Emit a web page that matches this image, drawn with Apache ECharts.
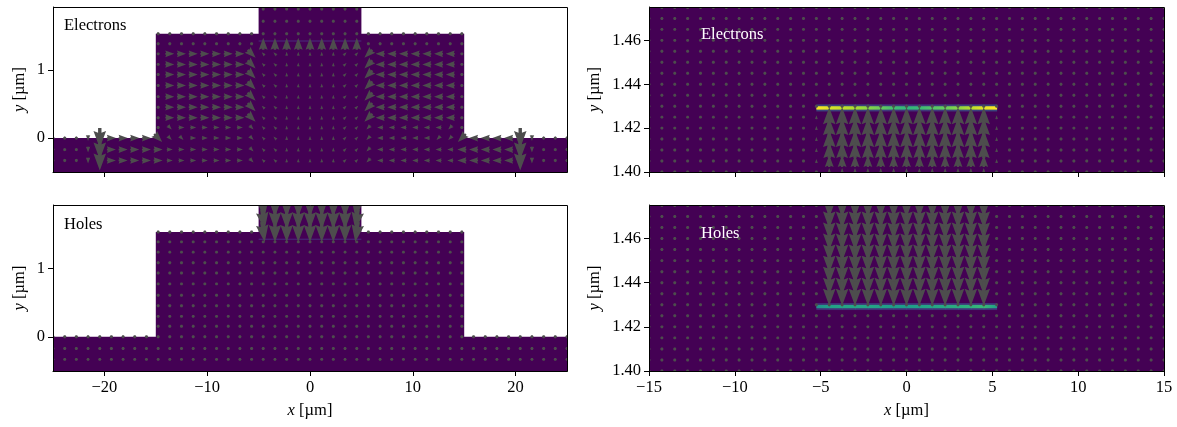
<!DOCTYPE html>
<html><head><meta charset="utf-8">
<script src="https://cdn.jsdelivr.net/npm/echarts@6/dist/echarts.min.js"></script>
<style>html,body{margin:0;padding:0;background:#fff}#c{width:1177px;height:427px}</style>
</head><body><div id="c"></div>
<script>
// ================= DATA =================
const leftXTicks = [-20, -10, 0, 10, 20];
const leftYTicks = [0, 1];
const rightXTicks = [-15, -10, -5, 0, 5, 10, 15];
const rightYTicks = [1.40, 1.42, 1.44, 1.46];

// device outline (µm)
const domainX = [-25, -15, -15, -5, -5, 5, 5, 15, 15, 25, 25, -25];
const domainY = [0, 0, 1.535, 1.535, 2.0, 2.0, 1.535, 1.535, 0, 0, -0.5, -0.5];
const qwY = 1.4292;          // quantum-well layer position
const qwX = [-5, 5];

// quiver grid, left panels
const leftX = [-25,-23.86,-22.73,-21.59,-20.45,-19.32,-18.18,-17.05,-15.91,-14.77,-13.64,-12.5,-11.36,-10.23,-9.09,-7.95,-6.82,-5.68,-4.55,-3.41,-2.27,-1.14,0,1.14,2.27,3.41,4.55,5.68,6.82,7.95,9.09,10.23,11.36,12.5,13.64,14.77,15.91,17.05,18.18,19.32,20.45,21.59,22.73,23.86,25];
const leftY = [1.90, 1.72, 1.535, 1.39, 1.24, 1.085, 0.935, 0.775, 0.61, 0.455, 0.30, 0.155, 0, -0.17, -0.33];
// quiver grid, right panels
const rightX = [-15,-14.25,-13.5,-12.75,-12,-11.25,-10.5,-9.75,-9,-8.25,-7.5,-6.75,-6,-5.25,-4.5,-3.75,-3,-2.25,-1.5,-0.75,0,0.75,1.5,2.25,3,3.75,4.5,5.25,6,6.75,7.5,8.25,9,9.75,10.5,11.25,12,12.75,13.5,14.25,15];
const rightY = [1.475, 1.47, 1.465, 1.46, 1.455, 1.45, 1.445, 1.44, 1.435, 1.43, 1.425, 1.42, 1.415, 1.41, 1.405, 1.40];

// arrow codes -> (u, v) current vector, arbitrary units (right / up positive)
const arrowCodes = {
  '.': [0, 0], ',': [3, 0], '`': [-3, 0], 'r': [6, 0], 'R': [9, 0], 'l': [-6, 0], 'L': [-9, 0],
  'u': [0, 4], 'U': [0, 12], 'y': [0, -3], 'd': [0, -6], 'D': [0, -20],
  'e': [4, -4], 'E': [8, -8], 'w': [-4, -4], 'W': [-8, -8], 'q': [-3, 3], 'p': [3, 3],
  'X': [3, -20], 'Z': [-3, -20], 'H': [0, -24],
  'A': [0, 20], 'B': [0, 18], 'C': [0, 16], 'F': [0, 12], 'G': [0, 8]
};

// Electrons, left panel (rows top -> bottom, one char per column of leftX; blank = outside device)
const elecLeftRows = [
  '                  .........                  ',
  '                  .........                  ',
  '         ...........................         ',
  '         .,,,,,,,,UUUUUUUUU````````.         ',
  '         .RRRRRRREqquuuuuppWLLLLLLL.         ',
  '         .RRRRRRREqquuuuuppWLLLLLLL.         ',
  '         .RRRRRRREqquuuuuppWLLLLLLL.         ',
  '         .RRRRRRREqquuuuuppWLLLLLLL.         ',
  '         .RRRRRRREqquuuuuppWLLLLLLL.         ',
  '         .RRRRRRREqquuuuuppWLLLLLLL.         ',
  '         .RRRRRRREqquuuuuppWLLLLLLL.         ',
  '         .errrrrreqquuuuuppwllllllw.         ',
  '.yydDRRRREeerrrrreqquuuuuppwlllllwwWLLLLDdyy.',
  '.yydDRRRRRrrrrrrreqquuuuuppwlllllllLLLLLDdyy.',
  '.yydDRRRRRrrrrrrreqquuuuuppwlllllllLLLLLDdyy.'
];
// Holes, left panel
const holeLeftRows = [
  '                  XDDDDDDDZ                  ',
  '                  XDDDDDDDZ                  ',
  '         .........XDDDDDDDZ.........         ',
  '         ...........................         ',
  '         ...........................         ',
  '         ...........................         ',
  '         ...........................         ',
  '         ...........................         ',
  '         ...........................         ',
  '         ...........................         ',
  '         ...........................         ',
  '         ...........................         ',
  '.............................................',
  '.............................................',
  '.............................................'
];
// Electrons, right panel (rows 1.475 -> 1.40)
const elecRightRows = [
  '.........................................',
  '.........................................',
  '.........................................',
  '.........................................',
  '.........................................',
  '.........................................',
  '.........................................',
  '.........................................',
  '.........................................',
  '.........................................',
  '.............uAAAAAAAAAAAAAu.............',
  '.............uAAAAAAAAAAAAAu.............',
  '.............uBBBBBBBBBBBBBu.............',
  '.............uCCCCCCCCCCCCCu.............',
  '.............uFFFFFFFFFFFFFu.............',
  '..............GGGGGGGGGGGGG..............'
];
// Holes, right panel
const holeRightRows = [
  '..............HHHHHHHHHHHHH..............',
  '..............HHHHHHHHHHHHH..............',
  '..............HHHHHHHHHHHHH..............',
  '..............HHHHHHHHHHHHH..............',
  '..............HHHHHHHHHHHHH..............',
  '..............HHHHHHHHHHHHH..............',
  '..............HHHHHHHHHHHHH..............',
  '..............HHHHHHHHHHHHH..............',
  '..............HHHHHHHHHHHHH..............',
  '.........................................',
  '.........................................',
  '.........................................',
  '.........................................',
  '.........................................',
  '.........................................',
  '.........................................'
];

// carrier density along the quantum well (normalised 0..1)
const lineX = [-5.25, -4.5, -3.75, -3, -2.25, -1.5, -0.75, 0, 0.75, 1.5, 2.25, 3, 3.75, 4.5, 5.25];
const elecDensity = [1.0, 0.97, 0.95, 0.93, 0.90, 0.86, 0.78, 0.74, 0.76, 0.82, 0.86, 0.90, 0.94, 0.98, 1.0];
const holeDensity = [0.56, 0.64, 0.66, 0.66, 0.66, 0.64, 0.62, 0.62, 0.64, 0.66, 0.68, 0.70, 0.72, 0.76, 0.62];

// ================= RENDERING =================
const FONT = 'Liberation Serif';
const FS = 16.5;
const ARROW_COLOR = '#4d4d4d';
const DOMAIN_COLOR = '#440154';
const W = 3.4;          // quiver shaft width in px
const HEAD_W = 3.7;     // head width (in shaft widths)
const HEAD_L = 5;       // head length
const HEAD_AX = 4.5;    // head axis length

const VIR = [[0,'#440154'],[0.125,'#482878'],[0.25,'#3e4989'],[0.375,'#31688e'],[0.5,'#26828e'],[0.625,'#1f9e89'],[0.75,'#35b779'],[0.875,'#6ece58'],[0.9375,'#b5de2b'],[1,'#fde725']];
function hex2rgb(h){return [parseInt(h.slice(1,3),16),parseInt(h.slice(3,5),16),parseInt(h.slice(5,7),16)];}
function viridis(t){
  t = Math.max(0, Math.min(1, t));
  for (let i = 1; i < VIR.length; i++) {
    if (t <= VIR[i][0]) {
      const a = VIR[i-1], b = VIR[i], f = (t - a[0]) / (b[0] - a[0]);
      const ca = hex2rgb(a[1]), cb = hex2rgb(b[1]);
      return 'rgb(' + ca.map((v, k) => Math.round(v + (cb[k] - v) * f)).join(',') + ')';
    }
  }
  return VIR[VIR.length-1][1];
}

function quiverData(xs, ys, rows) {
  const out = [];
  rows.forEach((row, j) => {
    for (let i = 0; i < row.length; i++) {
      const ch = row[i];
      if (ch === ' ') continue;
      const uv = arrowCodes[ch];
      out.push([xs[i], ys[j], uv[0], uv[1]]);
    }
  });
  return out;
}

// matplotlib-style quiver arrow (pivot = middle)
function arrowPolygon(cx, cy, u, v) {
  const L = Math.hypot(u, v) / W;
  let X, Y;
  const hw = HEAD_W / 2;
  if (L < 1) {
    X = []; Y = [];
    for (let i = 0; i < 8; i++) { const th = i * Math.PI / 3; X.push(Math.cos(th) * 0.5); Y.push(Math.sin(th) * 0.5); }
  } else {
    if (L < HEAD_L) {
      const s = L / HEAD_L;
      X = [0, HEAD_L - HEAD_AX, 0, HEAD_L, 0, HEAD_L - HEAD_AX, 0, 0].map(a => a * s);
      Y = [0.5, 0.5, hw, 0, -hw, -0.5, -0.5, 0.5].map(a => a * s);
    } else {
      X = [0, L - HEAD_AX, L - HEAD_L, L, L - HEAD_L, L - HEAD_AX, 0, 0];
      Y = [0.5, 0.5, hw, 0, -hw, -0.5, -0.5, 0.5];
    }
    const tip = X[3];
    X = X.map(a => a - tip / 2);
  }
  const th = Math.atan2(v, u), c = Math.cos(th), s = Math.sin(th);
  return X.map((x, i) => [cx + (x * c - Y[i] * s) * W, cy - (x * s + Y[i] * c) * W]);
}

function quiverSeries(gi, data) {
  return {
    type: 'custom', xAxisIndex: gi, yAxisIndex: gi, clip: true, silent: true, z: 5,
    progressive: 0, animation: false,
    data: data,
    renderItem: function (params, api) {
      const c = api.coord([api.value(0), api.value(1)]);
      return { type: 'polygon', shape: { points: arrowPolygon(c[0], c[1], api.value(2), api.value(3)) }, style: { fill: ARROW_COLOR } };
    }
  };
}

function domainSeries(gi, midY) {
  return {
    type: 'custom', xAxisIndex: gi, yAxisIndex: gi, clip: true, silent: true, z: 1,
    data: [[0, midY]],
    renderItem: function (params, api) {
      const pts = domainX.map((x, i) => api.coord([x, domainY[i]]));
      return { type: 'polygon', shape: { points: pts }, style: { fill: DOMAIN_COLOR } };
    }
  };
}

function densitySeries(gi, dens) {
  const data = [];
  for (let i = 0; i < lineX.length - 1; i++) data.push([lineX[i], lineX[i+1], dens[i], dens[i+1]]);
  return {
    type: 'custom', xAxisIndex: gi, yAxisIndex: gi, clip: true, silent: true, z: 3,
    data: data,
    encode: { x: [0, 1] },
    renderItem: function (params, api) {
      const a = api.coord([api.value(0), qwY]), b = api.coord([api.value(1), qwY]);
      const c0 = viridis(api.value(2)), c1 = viridis(api.value(3));
      const h0 = viridis(api.value(2) * 0.35), h1 = viridis(api.value(3) * 0.35);
      const grad = (p, q) => new echarts.graphic.LinearGradient(0, 0, 1, 0, [{ offset: 0, color: p }, { offset: 1, color: q }]);
      return {
        type: 'group', children: [
          { type: 'rect', shape: { x: a[0], y: a[1] - 3.5, width: b[0] - a[0] + 0.5, height: 7 }, style: { fill: grad(h0, h1), opacity: 0.7 } },
          { type: 'rect', shape: { x: a[0], y: a[1] - 1.7, width: b[0] - a[0] + 0.5, height: 3.4 }, style: { fill: grad(c0, c1) } }
        ]
      };
    }
  };
}

function qwLineSeries(gi) {
  return {
    type: 'line', xAxisIndex: gi, yAxisIndex: gi, silent: true, z: 3, symbol: 'none',
    data: [[qwX[0], qwY], [qwX[1], qwY]],
    lineStyle: { color: '#4b3a86', width: 1, opacity: 0.8 }
  };
}

const minus = v => (v < 0 ? '\u2212' + Math.abs(v) : String(v));
const txt = { fontFamily: FONT, fontSize: FS, color: '#000' };
const nameStyle = () => ({
  fontFamily: FONT, fontSize: FS, color: '#000',
  rich: { i: { fontFamily: FONT, fontSize: FS, fontStyle: 'italic', color: '#000' } }
});

function xAxisCfg(gi, min, max, ticks, showLabels) {
  return {
    type: 'value', gridIndex: gi, min: min, max: max,
    axisLine: { show: true, onZero: false, lineStyle: { color: '#000', width: 1 } },
    axisTick: { show: true, customValues: ticks, length: 5, lineStyle: { color: '#000', width: 1 } },
    axisLabel: Object.assign({ show: showLabels, customValues: ticks, formatter: minus, margin: 8 }, txt),
    splitLine: { show: false },
    name: showLabels ? '{i|x} [\u00b5m]' : '', nameLocation: 'middle', nameGap: 31,
    nameTextStyle: nameStyle()
  };
}
function yAxisCfg(gi, min, max, ticks, fmt, gap) {
  return {
    type: 'value', gridIndex: gi, min: min, max: max,
    axisLine: { show: true, onZero: false, lineStyle: { color: '#000', width: 1 } },
    axisTick: { show: true, customValues: ticks, length: 5, lineStyle: { color: '#000', width: 1 } },
    axisLabel: Object.assign({ show: true, customValues: ticks, formatter: fmt, margin: 8 }, txt),
    splitLine: { show: false },
    name: '{i|y} [\u00b5m]', nameLocation: 'middle', nameGap: gap, nameRotate: 90,
    nameTextStyle: nameStyle()
  };
}

const grids = [
  { left: 53, top: 7, width: 514, height: 165 },
  { left: 53, top: 205, width: 514, height: 166 },
  { left: 649, top: 7, width: 515, height: 165 },
  { left: 649, top: 205, width: 515, height: 166 }
];

const frames = grids.map(g => ({
  type: 'rect', z: 100, silent: true,
  shape: { x: g.left + 0.5, y: g.top + 0.5, width: g.width, height: g.height },
  style: { fill: 'none', stroke: '#000', lineWidth: 1 }
}));
const labelText = (x, y, text, color) => ({
  type: 'text', z: 110, x: x, y: y, silent: true,
  style: { text: text, fill: color, font: FS + 'px "' + FONT + '"', verticalAlign: 'middle', align: 'left' }
});

const option = {
  animation: false,
  backgroundColor: '#fff',
  grid: grids.map(g => Object.assign({ show: false, containLabel: false }, g)),
  xAxis: [
    xAxisCfg(0, -25, 25, leftXTicks, false),
    xAxisCfg(1, -25, 25, leftXTicks, true),
    xAxisCfg(2, -15, 15, rightXTicks, false),
    xAxisCfg(3, -15, 15, rightXTicks, true)
  ],
  yAxis: [
    yAxisCfg(0, -0.5, 1.93, leftYTicks, minus, 25),
    yAxisCfg(1, -0.5, 1.93, leftYTicks, minus, 25),
    yAxisCfg(2, 1.40, 1.4752, rightYTicks, v => v.toFixed(2), 46),
    yAxisCfg(3, 1.40, 1.4752, rightYTicks, v => v.toFixed(2), 46)
  ],
  series: [
    domainSeries(0, 0), domainSeries(1, 0), domainSeries(2, 1.43), domainSeries(3, 1.43),
    qwLineSeries(0), qwLineSeries(1),
    densitySeries(2, elecDensity), densitySeries(3, holeDensity),
    quiverSeries(0, quiverData(leftX, leftY, elecLeftRows)),
    quiverSeries(1, quiverData(leftX, leftY, holeLeftRows)),
    quiverSeries(2, quiverData(rightX, rightY, elecRightRows)),
    quiverSeries(3, quiverData(rightX, rightY, holeRightRows))
  ],
  graphic: frames.concat([
    labelText(64, 26, 'Electrons', '#000'),
    labelText(64, 225, 'Holes', '#000'),
    labelText(701, 35, 'Electrons', '#fff'),
    labelText(701, 234, 'Holes', '#fff')
  ])
};

const chart = echarts.init(document.getElementById('c'), null, { renderer: 'canvas' });
chart.setOption(option);
</script>
</body></html>
